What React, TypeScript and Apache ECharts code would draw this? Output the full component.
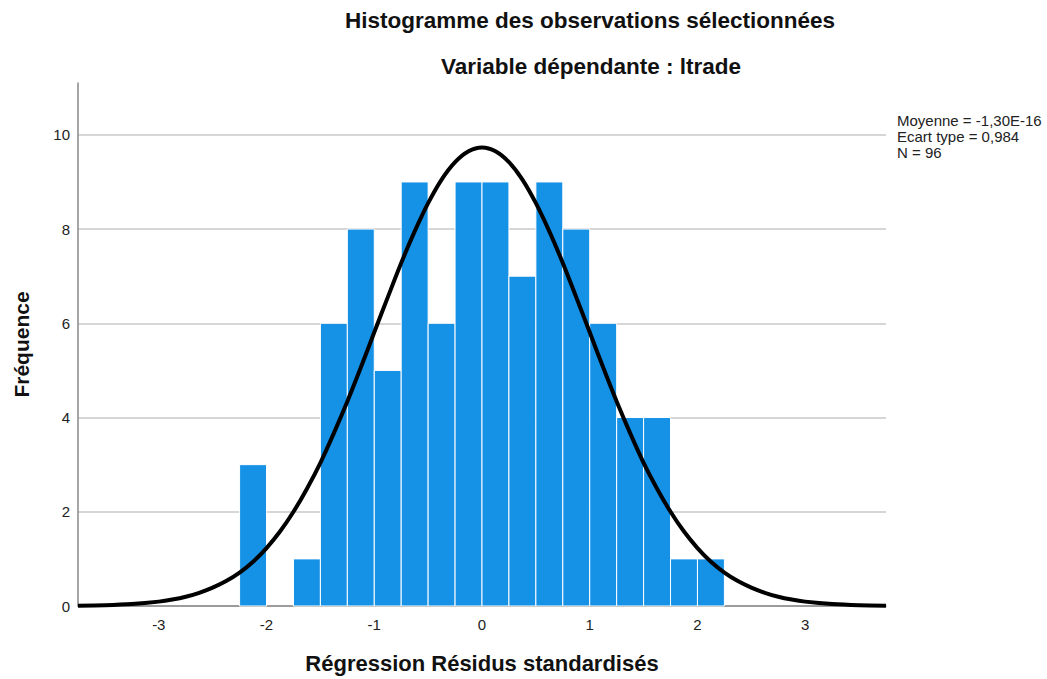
import React, { useEffect, useRef } from "react";
import * as echarts from "echarts";

const binStarts = [-2.25, -2.0, -1.75, -1.5, -1.25, -1.0, -0.75, -0.5, -0.25, 0, 0.25, 0.5, 0.75, 1.0, 1.25, 1.5, 1.75, 2.0];
const frequencies = [3, 0, 1, 6, 8, 5, 9, 6, 9, 9, 7, 9, 8, 6, 4, 4, 1, 1];
const binWidth = 0.25;

const curveX = [-3.75, -3.5, -3.25, -3, -2.875, -2.75, -2.625, -2.5, -2.375, -2.25, -2.125, -2, -1.875, -1.75, -1.625, -1.5, -1.375, -1.25, -1.125, -1, -0.875, -0.75, -0.625, -0.5, -0.375, -0.25, -0.125, 0, 0.125, 0.25, 0.375, 0.5, 0.625, 0.75, 0.875, 1, 1.125, 1.25, 1.375, 1.5, 1.625, 1.75, 1.875, 2, 2.125, 2.25, 2.375, 2.5, 2.625, 2.75, 2.875, 3, 3.25, 3.5, 3.75];
const curveY = [0.007, 0.017, 0.042, 0.093, 0.136, 0.196, 0.28, 0.39, 0.53, 0.71, 0.94, 1.23, 1.58, 2.0, 2.49, 3.04, 3.67, 4.34, 5.06, 5.81, 6.55, 7.28, 7.95, 8.55, 9.05, 9.42, 9.65, 9.73, 9.65, 9.42, 9.05, 8.55, 7.95, 7.28, 6.55, 5.81, 5.06, 4.34, 3.67, 3.04, 2.49, 2.0, 1.58, 1.23, 0.94, 0.71, 0.53, 0.39, 0.28, 0.196, 0.136, 0.093, 0.042, 0.017, 0.007];

const xTicks = [-3, -2, -1, 0, 1, 2, 3];
const yTicks = [0, 2, 4, 6, 8, 10];

const titleText = "Histogramme des observations sélectionnées";
const subtitleText = "Variable dépendante : ltrade";
const xName = "Régression Résidus standardisés";
const yName = "Fréquence";
const statsLines = ["Moyenne = -1,30E-16", "Ecart type = 0,984", "N = 96"];

const FONT = "'Liberation Sans', Arial, sans-serif";

export default function App() {
  const ref = useRef<HTMLDivElement>(null);
  useEffect(() => {
    document.body.style.margin = "0";
    const chart = echarts.init(ref.current!, null, { renderer: "svg" });
    const barData = binStarts.map((s, i) => [s, s + binWidth, frequencies[i]]);
    const lineData = curveX.map((x, i) => [x, curveY[i]]);
    chart.setOption({
      animation: false,
      backgroundColor: "#ffffff",
      textStyle: { fontFamily: FONT },
      title: [
        { text: titleText, left: 585, top: 4, textAlign: "center", textStyle: { fontFamily: FONT, fontSize: 22.5, fontWeight: "bold", color: "#111" } },
        { text: subtitleText, left: 586, top: 50, textAlign: "center", textStyle: { fontFamily: FONT, fontSize: 22.5, fontWeight: "bold", color: "#111" } },
      ],
      grid: { left: 78, right: 161, top: 83, bottom: 72, containLabel: false },
      xAxis: {
        type: "value",
        min: -3.75,
        max: 3.75,
        name: xName,
        nameLocation: "middle",
        nameGap: 46,
        nameTextStyle: { fontFamily: FONT, fontSize: 22, fontWeight: "bold", color: "#111" },
        axisLine: { show: true, lineStyle: { color: "#888", width: 1.5 } },
        axisTick: { show: false },
        splitLine: { show: false },
        axisLabel: {
          fontSize: 15,
          color: "#222",
          margin: 11,
          customValues: xTicks,
          formatter: (v: number) => String(v),
        },
      },
      yAxis: {
        type: "value",
        min: 0,
        max: 11.1,
        interval: 2,
        name: yName,
        nameLocation: "middle",
        nameGap: 46,
        nameRotate: 90,
        nameTextStyle: { fontFamily: FONT, fontSize: 21, fontWeight: "bold", color: "#111" },
        axisLine: { show: true, onZero: false, lineStyle: { color: "#888", width: 1.5 } },
        axisTick: { show: false },
        axisLabel: {
          fontSize: 15,
          color: "#222",
          margin: 8,
          showMaxLabel: false,
          formatter: (v: number) => (yTicks.includes(v) ? String(v) : ""),
        },
        splitLine: { show: true, showMaxLine: false, lineStyle: { color: "#c8c8c8", width: 1.5 } },
      },
      graphic: [
        {
          type: "text",
          left: 897,
          top: 112,
          style: { text: statsLines.join("\n"), fontFamily: FONT, fontSize: 15, lineHeight: 16, fill: "#222" },
        },
      ],
      series: [
        {
          type: "custom",
          data: barData,
          encode: { x: [0, 1], y: 2 },
          renderItem: (params: any, api: any) => {
            const lo = api.value(0);
            const hi = api.value(1);
            const v = api.value(2);
            if (!v) return null;
            const p1 = api.coord([lo, v]);
            const p2 = api.coord([hi, 0]);
            return {
              type: "rect",
              shape: { x: p1[0], y: p1[1], width: p2[0] - p1[0], height: p2[1] - p1[1] },
              style: { fill: "#1591e6", stroke: "#ffffff", lineWidth: 1 },
            };
          },
          z: 2,
        },
        {
          type: "line",
          data: lineData,
          smooth: 0.3,
          showSymbol: false,
          lineStyle: { color: "#000", width: 4 },
          z: 3,
        },
      ],
    });
    return () => chart.dispose();
  }, []);
  return <div ref={ref} style={{ width: 1047, height: 679 }} />;
}
